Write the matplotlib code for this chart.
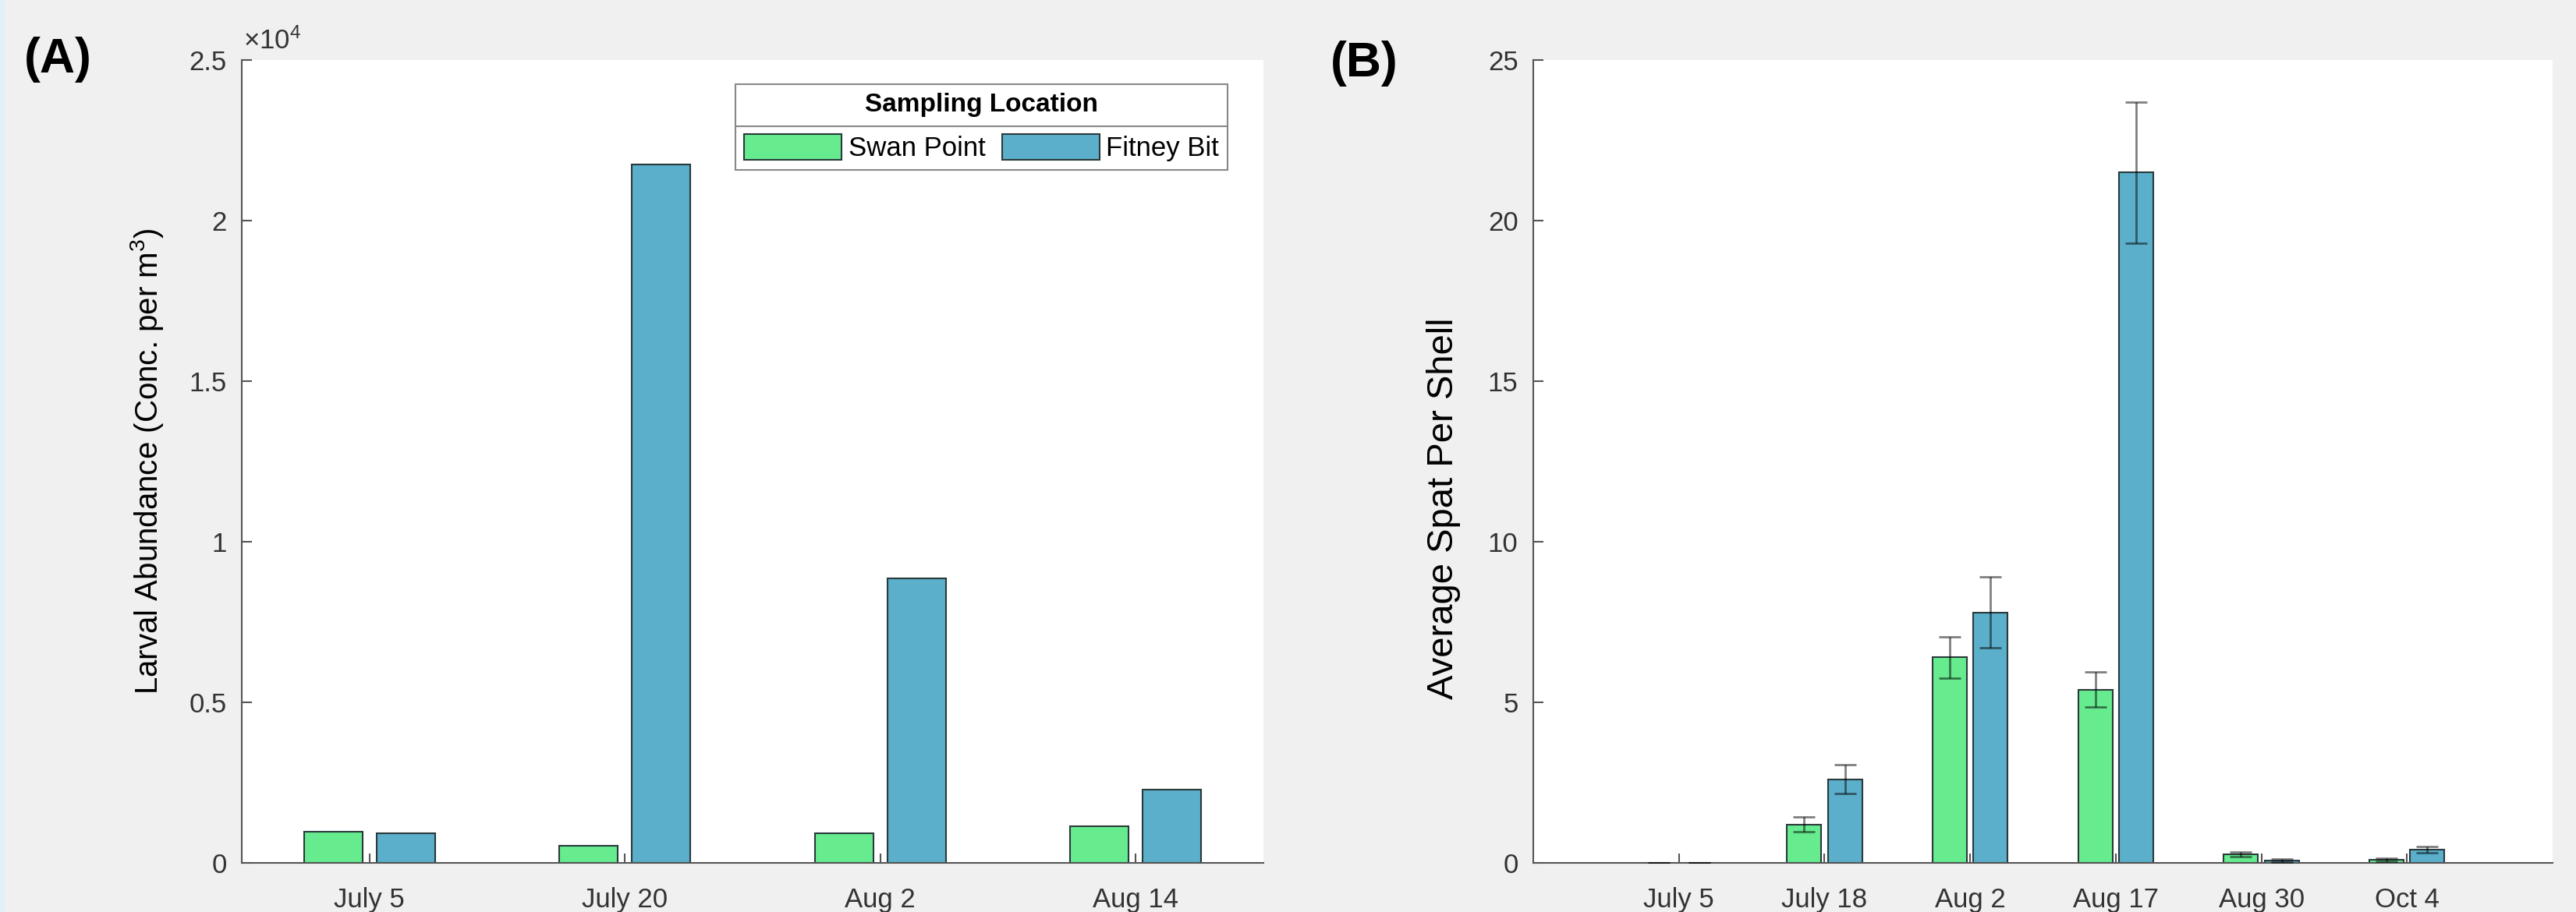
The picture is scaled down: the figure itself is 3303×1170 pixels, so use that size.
# larval abundance and spat settlement bar charts, two panels side by side

import numpy as np
import matplotlib as mpl
mpl.use('Agg')
import matplotlib.pyplot as plt
from matplotlib.patches import Patch, Rectangle
from matplotlib.lines import Line2D
from matplotlib.ticker import FuncFormatter

# panel A data (larvae per m^3)
larvae_dates = ['July 5', 'July 20', 'Aug 2', 'Aug 14']
larvae_swan = [970, 530, 930, 1140]
larvae_fitney = [930, 21750, 8850, 2280]

# panel B data (mean spat per shell with error)
spat_dates = ['July 5', 'July 18', 'Aug 2', 'Aug 17', 'Aug 30', 'Oct 4']
spat_swan = [0, 1.2, 6.4, 5.4, 0.27, 0.1]
spat_swan_err = [0, 0.24, 0.65, 0.55, 0.08, 0.04]
spat_fitney = [0, 2.6, 7.8, 21.5, 0.07, 0.42]
spat_fitney_err = [0, 0.45, 1.1, 2.2, 0.04, 0.1]

locations = ['Swan Point', 'Fitney Bit']

# general plot parameters
mpl.rcParams['font.family'] = ['Liberation Sans', 'DejaVu Sans']
mpl.rcParams['mathtext.fontset'] = 'custom'
mpl.rcParams['mathtext.rm'] = 'Liberation Sans'
mpl.rcParams['mathtext.default'] = 'regular'

green = '#66EB8F'
blue = '#5BAFCB'
edge = '#2A3A3A'
axis_col = '#555555'
tick_col = '#333333'

W, H = 3303, 1170
fig = plt.figure(figsize=(W / 100, H / 100), dpi=100, facecolor='#F0F0F0')
fig.patches.append(Rectangle((0, 0), 5 / W, 1, transform=fig.transFigure,
                             color='#DFF1F7', zorder=0))

ax_a = fig.add_axes([310 / W, (H - 1107) / H, 1310 / W, 1030 / H])
ax_b = fig.add_axes([1966 / W, (H - 1107) / H, 1307 / W, 1030 / H])


def style_axes(ax):
    ax.set_facecolor('white')
    for side in ['top', 'right']:
        ax.spines[side].set_visible(False)
    for side in ['left', 'bottom']:
        ax.spines[side].set_color(axis_col)
        ax.spines[side].set_linewidth(1.5)
    ax.tick_params(direction='in', length=9, width=1.5, color=axis_col,
                   labelsize=25, labelcolor=tick_col)
    ax.tick_params(axis='y', pad=14)
    ax.tick_params(axis='x', pad=22)


def grouped_bars(ax, n, swan, fitney, offset, width):
    x = np.arange(1, n + 1)
    ax.bar(x - offset, swan, width=width, color=green, edgecolor=edge,
           linewidth=1.5, zorder=2)
    ax.bar(x + offset, fitney, width=width, color=blue, edgecolor=edge,
           linewidth=1.5, zorder=2)
    return x


# panel A
style_axes(ax_a)
x_a = grouped_bars(ax_a, len(larvae_dates), larvae_swan, larvae_fitney, 0.142, 0.23)
ax_a.set_xlim(0.5, 4.5)
ax_a.set_ylim(0, 25000)
ax_a.set_xticks(x_a)
ax_a.set_xticklabels(larvae_dates)
ax_a.set_yticks(np.arange(0, 25001, 5000))
ax_a.yaxis.set_major_formatter(FuncFormatter(lambda v, p: f'{v / 1e4:g}'))
ax_a.set_ylabel('Larval Abundance (Conc. per m$^{3}$)', fontsize=29)
ax_a.yaxis.set_label_coords(-0.0748, 0.5)
fig.text(312 / W, 1 - 63 / H, '×10$^{4}$', fontsize=25, color=tick_col,
         va='baseline', ha='left')

handles = [Patch(facecolor=green, edgecolor=edge, linewidth=1.5),
           Patch(facecolor=blue, edgecolor=edge, linewidth=1.5)]
leg = ax_a.legend(handles, locations, title='Sampling Location', ncol=2,
                  loc='upper right', bbox_to_anchor=(0.965, 0.970),
                  fontsize=25, title_fontproperties={'weight': 'bold', 'size': 24},
                  handlelength=3.6, handleheight=1.1, handletextpad=0.25,
                  columnspacing=0.6, borderpad=0.32, labelspacing=0.63,
                  borderaxespad=0, fancybox=False, framealpha=1,
                  edgecolor='#888888')
leg.get_frame().set_linewidth(1.5)

# panel B
style_axes(ax_b)
x_b = grouped_bars(ax_b, len(spat_dates), spat_swan, spat_fitney, 0.14, 0.235)
ax_b.errorbar(x_b - 0.14, spat_swan, yerr=spat_swan_err, fmt='none',
              ecolor='black', alpha=0.5, elinewidth=2, capsize=10, capthick=2,
              zorder=3)
ax_b.errorbar(x_b + 0.14, spat_fitney, yerr=spat_fitney_err, fmt='none',
              ecolor='black', alpha=0.5, elinewidth=2, capsize=10, capthick=2,
              zorder=3)
ax_b.set_xlim(0, 7)
ax_b.set_ylim(0, 25)
ax_b.set_xticks(x_b)
ax_b.set_xticklabels(spat_dates)
ax_b.set_yticks(np.arange(0, 26, 5))
ax_b.set_ylabel('Average Spat Per Shell', fontsize=34)
ax_b.yaxis.set_label_coords(-0.0712, 0.4417)

# panel letters
fig.text(31 / W, 1 - 47 / H, '(A)', fontsize=45, fontweight='bold', va='top')
fig.text(1706 / W, 1 - 52 / H, '(B)', fontsize=45, fontweight='bold', va='top')

# separator between legend title and entries
fig.canvas.draw()
renderer = fig.canvas.get_renderer()
lb = leg.get_window_extent(renderer)
tb = leg.get_title().get_window_extent(renderer)
top_entries = max(t.get_window_extent(renderer).y1 for t in leg.get_texts())
y_sep = (tb.y0 + top_entries) / 2
fig.lines.append(Line2D([lb.x0 / W, lb.x1 / W], [y_sep / H, y_sep / H],
                        transform=fig.transFigure, color='#888888', lw=1.5,
                        zorder=10))

fig.savefig('out.png', dpi=100, facecolor=fig.get_facecolor())
